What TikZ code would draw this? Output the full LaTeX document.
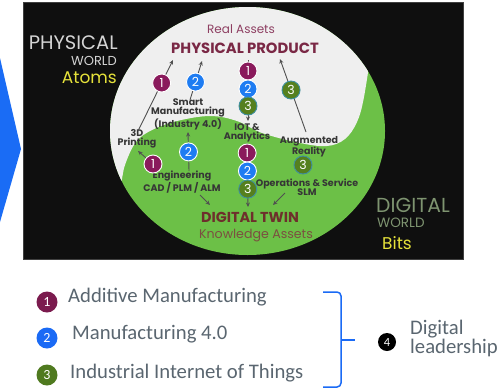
\documentclass[tikz,border=0pt]{standalone}
\usepackage{fontspec}
\setmainfont{Poppins}
\newfontfamily\legendfont{Carlito}
\usetikzlibrary{arrows.meta}

\definecolor{bgblack}{HTML}{0F0F0F}
\definecolor{leaf}{HTML}{6CC047}
\definecolor{paper}{HTML}{EFEFEF}
\definecolor{plum}{HTML}{8A1A5C}
\definecolor{azure}{HTML}{1E7CF2}
\definecolor{badgeolive}{HTML}{55801E}
\definecolor{badgeteal}{HTML}{3E8FA0}
\definecolor{wine}{HTML}{7A2845}
\definecolor{rose}{HTML}{8E3F62}
\definecolor{twinbrown}{HTML}{6E2F2C}
\definecolor{clay}{HTML}{7B5040}
\definecolor{ink}{HTML}{363636}
\definecolor{linegray}{HTML}{505050}
\definecolor{mossgray}{HTML}{7E9470}
\definecolor{lightgrey}{HTML}{D4D4D4}
\definecolor{lemon}{HTML}{E6E23A}
\definecolor{legendgray}{HTML}{5A6670}
\definecolor{chevron}{HTML}{1A6CF5}
\definecolor{legplum}{HTML}{7B1B4E}
\definecolor{legblue}{HTML}{1A6AF5}
\definecolor{legolive}{HTML}{4F7A1F}

\tikzset{
  lbl/.style={font=\bfseries\fontsize{9.5}{9.5}\selectfont, text=ink, align=center, inner sep=0pt},
  badge/.style={circle, minimum size=18pt, inner sep=0pt, line width=0.9pt, text=white,
    font=\fontsize{12.5}{12.5}\selectfont},
  b1/.style={badge, fill=plum, draw=white},
  b2/.style={badge, fill=azure, draw=white},
  b3/.style={badge, fill=badgeolive, draw=badgeteal},
  link/.style={draw=linegray, line width=0.9pt, -{Stealth[length=4.5pt,width=4pt]}},
  legbadge/.style={circle, minimum size=21pt, inner sep=0pt, text=white,
    font=\legendfont\fontsize{14}{14}\selectfont},
  legtext/.style={anchor=west, inner sep=0pt, text=legendgray,
    font=\legendfont\fontsize{20.7}{20}\selectfont},
  bracket/.style={draw=legblue, line width=1.5pt, rounded corners=4pt},
}

\begin{document}
\begin{tikzpicture}[x=1pt, y=-1pt]
\useasboundingbox (0,0) rectangle (497,389);
\fill[white] (0,0) rectangle (497,389);

% arrow chevron entering from the left
\fill[chevron] (0,58) -- (21,149) -- (0,222) -- cycle;

% dark panel
\fill[bgblack, draw=gray!50!black, line width=0.6pt] (23,2) rectangle (463,259);

% yin-yang ellipse: physical (white) over digital (green)
\begin{scope}
  \clip (247.5,131) ellipse [x radius=137.5pt, y radius=124pt];
  \fill[leaf] (100,0) rectangle (400,262);
  \fill[paper] plot[smooth, tension=0.6] coordinates {(110,215) (120,188) (125,165)
     (136,142) (152,130) (177,121) (210,116) (237,121) (262,133) (300,143)
     (327,146) (345,139) (357,122) (364,97) (372,45)} -- (400,0) -- (100,0) -- cycle;
\end{scope}

% world captions
\node[anchor=east, inner sep=0pt, text=lightgrey, font=\fontsize{19.5}{19.5}\selectfont] (phys) at (118,43) {PHYSICAL};
\node[anchor=east, inner sep=0pt, text=lightgrey, font=\fontsize{13}{13}\selectfont] (physw) at (117,61) {WORLD};
\node[anchor=east, inner sep=0pt, text=lemon, font=\fontsize{17}{17}\selectfont] (atoms) at (117,78) {Atoms};
\node[anchor=west, inner sep=0pt, text=mossgray, font=\fontsize{20.3}{20.3}\selectfont] (digi) at (376,205) {DIGITAL};
\node[anchor=west, inner sep=0pt, text=mossgray, font=\fontsize{13.5}{13.5}\selectfont] (digiw) at (377,223) {WORLD};
\node[anchor=west, inner sep=0pt, text=lemon, font=\fontsize{17}{17}\selectfont] (bits) at (382,243) {Bits};

% titles
\node[inner sep=0pt, text=rose, font=\fontsize{12}{12}\selectfont] (real) at (241,29) {Real Assets};
\node[inner sep=0pt, text=wine, font=\bfseries\fontsize{14.8}{14.8}\selectfont] (pp) at (245,48) {PHYSICAL PRODUCT};
\node[inner sep=0pt, text=twinbrown, font=\bfseries\fontsize{14.4}{14.4}\selectfont] (dt) at (250,217) {DIGITAL TWIN};
\node[inner sep=0pt, text=clay, font=\fontsize{12.6}{12.6}\selectfont] (ka) at (256,236) {Knowledge Assets};

% stage labels
\node[lbl] (smart) at (188,114) {Smart\\Manufacturing\\(Industry 4.0)};
\node[lbl] (print3d) at (137,139) {3D\\Printing};
\node[lbl] (iot) at (247,133) {IOT \&\\Analytics};
\node[lbl] (ar) at (309,147) {Augmented\\Reality};
\node[lbl] (eng) at (182,182) {Engineering\\CAD / PLM / ALM};
\node[lbl] (ops) at (307,187) {Operations \& Service\\SLM};

% upper connectors towards the physical product
\coordinate (a1s) at (138,131); \coordinate (a1e) at (173,60);
\draw[link] (a1s) -- (a1e) node[b1, pos=0.676] (u1) {1};
\coordinate (a2s) at (190,100); \coordinate (a2e) at (202,61);
\draw[link] (a2s) -- (a2e) node[b2, pos=0.46] (u2) {2};
\coordinate (a3s) at (248,60); \coordinate (a3e) at (248,121);
\draw[link] (a3s) -- (a3e)
  node[b1, pos=0.18] (uc1) {1}
  node[b2, pos=0.475] (uc2) {2}
  node[b3, pos=0.754] (uc3) {3};
\coordinate (a4s) at (306,132); \coordinate (a4e) at (280,59);
\draw[link] (a4s) -- (a4e) node[b3, pos=0.575] (u4) {3};

% lower connectors towards the digital twin
\node[b1] (l1) at (153,164) {1};
\coordinate (l1tip) at (138,151);
\draw[link] (l1) -- (l1tip);
\coordinate (l2s) at (189,171); \coordinate (l2e) at (188,132);
\draw[link] (l2s) -- (l2e) node[b2, pos=0.49] (l2) {2};
\coordinate (engs) at (200,195); \coordinate (enge) at (210,205);
\draw[link] (engs) -- (enge);
\coordinate (cols) at (247,143); \coordinate (cole) at (248,207);
\draw[link] (cols) -- (cole)
  node[b1, pos=0.156] (lc1) {1}
  node[b2, pos=0.4375] (lc2) {2}
  node[b3, pos=0.72] (lc3) {3};
\node[b3] (l4) at (303,165) {3};
\coordinate (opss) at (285,193); \coordinate (opse) at (273,205);
\draw[link] (opss) -- (opse);

% legend
\node[legbadge, fill=legplum] (k1) at (47,302) {1};
\node[legtext] (t1) at (68,297) {Additive Manufacturing};
\node[legbadge, fill=legblue] (k2) at (47,338) {2};
\node[legtext] (t2) at (72,334) {Manufacturing 4.0};
\node[legbadge, fill=legolive] (k3) at (47,375) {3};
\node[legtext] (t3) at (70,373) {Industrial Internet of Things};

\coordinate (br1) at (323,292); \coordinate (br2) at (341,292);
\coordinate (br3) at (341,387); \coordinate (br4) at (323,387);
\coordinate (brm) at (341,340); \coordinate (brt) at (355,340);
\draw[bracket] (br1) -- (br2) -- (br3) -- (br4);
\draw[bracket] (brm) -- (brt);

\node[legbadge, fill=black, minimum size=18pt, font=\legendfont\fontsize{12.5}{12.5}\selectfont] (k4) at (387,342) {4};
\node[legtext, anchor=west] (lead1) at (410,329) {Digital};
\node[legtext, anchor=west] (lead2) at (410,348) {leadership};
\end{tikzpicture}
\end{document}
